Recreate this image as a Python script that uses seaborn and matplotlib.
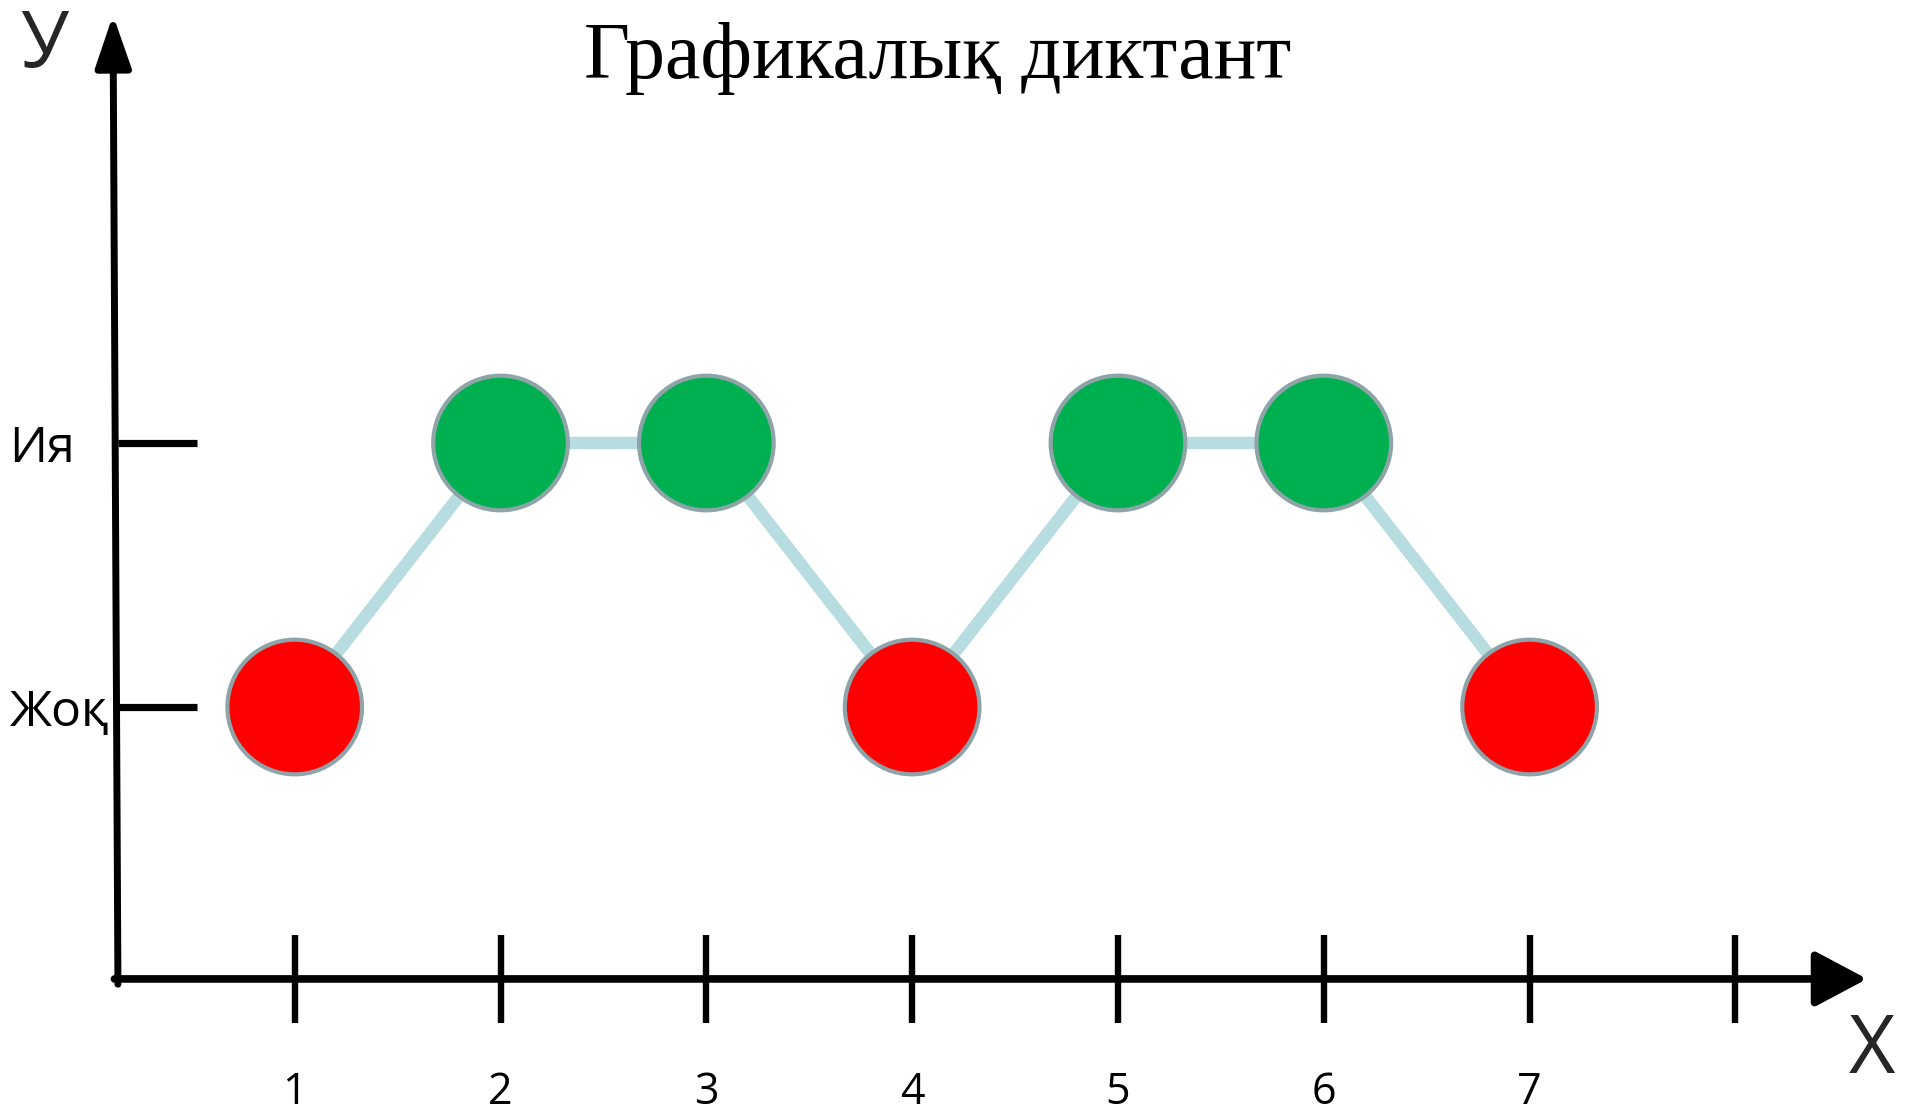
import numpy as np
import pandas as pd
import matplotlib
matplotlib.use('Agg')
import matplotlib.pyplot as plt
import seaborn as sns

sns.set_style('white')
plt.rcParams['font.family'] = ['Open Sans', 'DejaVu Sans']
plt.rcParams['text.color'] = 'black'

# graphic dictation: question number and answer (0 = Жоқ, 1 = Ия)
questions = [1, 2, 3, 4, 5, 6, 7]
answers = [0, 1, 1, 0, 1, 1, 0]
answer_labels = ['Жоқ', 'Ия']
x_ticks = [1, 2, 3, 4, 5, 6, 7, 8]
x_tick_labels = ['1', '2', '3', '4', '5', '6', '7', '']
title = 'Графикалық диктант'

df = pd.DataFrame({'q': questions, 'a': answers})
df['colour'] = np.where(df['a'] == 1, 'yes', 'no')

fig = plt.figure(figsize=(19.05, 11.12), dpi=100)
ax = fig.add_axes([0, 0, 1, 1])
ax.set_xlim(-0.432, 8.824)
ax.set_ylim(-1.534, 2.678)

sns.lineplot(data=df, x='q', y='a', color='#B7DDE0', linewidth=9, ax=ax, zorder=1)
sns.scatterplot(data=df, x='q', y='a', hue='colour',
                palette={'yes': '#00B050', 'no': '#FF0000'},
                s=9400, edgecolor='#8EA4A8', linewidth=3, legend=False,
                ax=ax, zorder=3)

# hand drawn axes
for s in ax.spines.values():
    s.set_visible(False)
ax.spines['left'].set_position(('data', 0.141))
ax.spines['bottom'].set_position(('data', -1.03))

ax.annotate('', xy=(8.64, -1.03), xytext=(0.124, -1.03),
            arrowprops=dict(arrowstyle='-|>,head_length=32,head_width=17',
                            lw=5.5, color='black', shrinkA=0, shrinkB=0,
                            mutation_scale=1))
ax.annotate('', xy=(0.117, 2.621), xytext=(0.141, -1.05),
            arrowprops=dict(arrowstyle='-|>,head_length=32,head_width=11',
                            lw=5, color='black', shrinkA=0, shrinkB=0,
                            mutation_scale=1))

ax.set_xticks(x_ticks, x_tick_labels)
ax.tick_params(axis='x', direction='inout', length=64, width=4.6, pad=34,
               labelsize=31, bottom=True, colors='black')
ax.set_yticks([0, 1], answer_labels)
ax.tick_params(axis='y', direction='in', length=57, width=5.2, pad=78,
               labelsize=36, left=True, colors='black')
plt.setp(ax.get_yticklabels(), ha='left')

ax.set_xlabel('Х', fontsize=58, rotation=0, va='center', ha='center')
ax.xaxis.set_label_coords(0.9827, 0.054)
ax.set_ylabel('У', fontsize=56, rotation=0, va='center', ha='center')
ax.yaxis.set_label_coords(0.023, 0.958)

fig.text(0.4924, 0.947, title, fontsize=57.5, family='Liberation Serif',
         ha='center', va='center')

fig.savefig('out.png', dpi=100)
